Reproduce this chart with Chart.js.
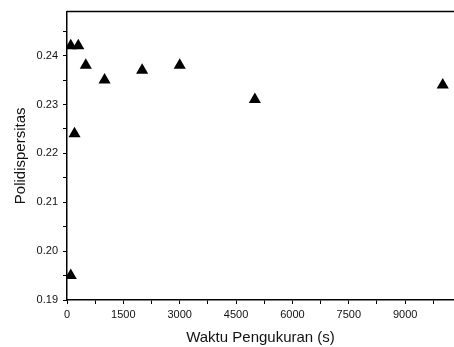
<!DOCTYPE html>
<html>
<head>
<meta charset="utf-8">
<script src="https://cdn.jsdelivr.net/npm/chart.js@4/dist/chart.umd.min.js"></script>
<style>
  html, body { margin: 0; padding: 0; background: #fff; }
  #wrap { width: 454px; height: 347px; }
</style>
</head>
<body>
<div id="wrap"><canvas id="myChart" width="454" height="347"></canvas></div>
<script>
// waktu pengukuran (s) dan polidispersitas
var waktu = [100, 200, 100, 300, 500, 1000, 2000, 3000, 5000, 10000];
var pdi = [0.195, 0.224, 0.242, 0.242, 0.238, 0.235, 0.237, 0.238, 0.231, 0.234];
var xTickLabels = [0, 1500, 3000, 4500, 6000, 7500, 9000];
var yTickLabels = [0.19, 0.20, 0.21, 0.22, 0.23, 0.24];

var points = waktu.map(function (t, i) { return { x: t, y: pdi[i] }; });
var font = 'Liberation Sans, Arial, sans-serif';

// garis bingkai atas
var topLine = {
  id: 'topLine',
  afterDraw: function (chart) {
    var c = chart.ctx, a = chart.chartArea;
    c.save();
    c.strokeStyle = '#000';
    c.lineWidth = 1.5;
    c.beginPath();
    c.moveTo(a.left, a.top);
    c.lineTo(chart.width, a.top);
    c.stroke();
    c.restore();
  }
};

// major + minor ticks (minor di tengah tiap label)
function withMinor(labels) {
  var out = [];
  var half = (labels[1] - labels[0]) / 2;
  labels.forEach(function (v) { out.push({ value: v }); out.push({ value: v + half }); });
  return out;
}

var mychart = document.getElementById('myChart').getContext('2d');
var scatterChart = new Chart(mychart, {
  type: 'scatter',
  data: {
    datasets: [{
      label: 'PDI',
      data: points,
      pointStyle: 'triangle',
      pointRadius: 7,
      pointHoverRadius: 7,
      backgroundColor: '#000',
      borderColor: '#000',
      borderWidth: 0
    }]
  },
  options: {
    responsive: false,
    animation: false,
    events: [],
    layout: { autoPadding: false, padding: { top: 11, right: 0, left: 0, bottom: 0 } },
    plugins: { legend: { display: false }, tooltip: { enabled: false } },
    scales: {
      x: {
        type: 'linear',
        min: 0,
        max: 10300,
        afterBuildTicks: function (s) { s.ticks = withMinor(xTickLabels); },
        afterFit: function (s) { s.height = 47; s.paddingRight = 0; },
        ticks: {
          padding: 4,
          color: '#111',
          font: { family: font, size: 11 },
          maxRotation: 0,
          autoSkip: false,
          callback: function (v) {
            return xTickLabels.indexOf(v) >= 0 ? String(v) : '';
          }
        },
        grid: { drawOnChartArea: false, tickLength: 4, tickColor: '#000', tickWidth: 1 },
        border: { color: '#000', width: 1.5 },
        title: {
          display: true,
          text: 'Waktu Pengukuran (s)',
          color: '#111',
          font: { family: font, size: 15 },
          padding: { top: 4, bottom: 0 }
        }
      },
      y: {
        min: 0.19,
        max: 0.249,
        afterBuildTicks: function (s) { s.ticks = withMinor(yTickLabels); },
        afterFit: function (s) { s.width = 67; },
        ticks: {
          padding: 5,
          color: '#111',
          font: { family: font, size: 11 },
          autoSkip: false,
          callback: function (v) {
            return yTickLabels.indexOf(v) >= 0 ? v.toFixed(2) : '';
          }
        },
        grid: { drawOnChartArea: false, tickLength: 4, tickColor: '#000', tickWidth: 1 },
        border: { color: '#000', width: 1.5 },
        title: {
          display: true,
          text: 'Polidispersitas',
          color: '#111',
          font: { family: font, size: 15 },
          padding: { top: 12, bottom: 0 }
        }
      }
    }
  },
  plugins: [topLine]
});
</script>
</body>
</html>
